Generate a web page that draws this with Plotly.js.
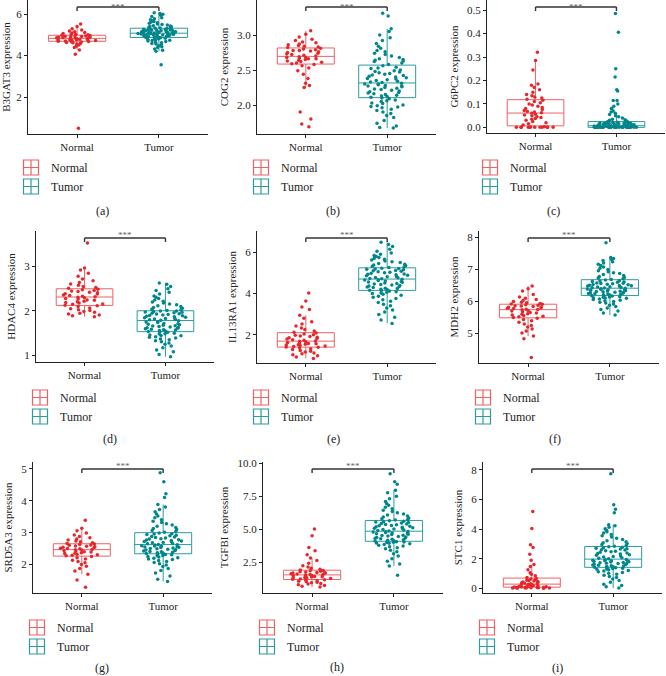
<!DOCTYPE html>
<html>
<head>
<meta charset="utf-8">
<script src="https://cdn.plot.ly/plotly-3.0.1.min.js"></script>
<style>
  html, body { margin: 0; padding: 0; background: #fff; }
  #chart { width: 666px; height: 676px; }
</style>
</head>
<body>
<div id="chart"></div>
<script>
// Groups and genes
const groups = ['Normal', 'Tumor'];
const genes = ['B3GAT3', 'COG2', 'G6PC2', 'HDAC4', 'IL13RA1', 'MDH2', 'SRD5A3', 'TGFBI', 'STC1'];
const panelTags = ['(a)', '(b)', '(c)', '(d)', '(e)', '(f)', '(g)', '(h)', '(i)'];

// Expression values, estimated from the jittered points of each panel
const b3gat3Normal = [0.50, 4.06, 4.27, 4.38, 4.45, 4.51, 4.55, 4.58, 4.61, 4.63, 4.65, 4.66, 4.68,
  4.69, 4.70, 4.72, 4.73, 4.74, 4.75, 4.76, 4.77, 4.78, 4.79, 4.80, 4.81, 4.82,
  4.83, 4.84, 4.85, 4.86, 4.87, 4.88, 4.89, 4.91, 4.92, 4.93, 4.94, 4.95, 4.97,
  4.98, 5.00, 5.02, 5.04, 5.06, 5.08, 5.11, 5.14, 5.18, 5.23, 5.29, 5.40, 5.52];
const b3gat3Tumor = [3.55, 4.20, 4.25, 4.31, 4.38, 4.42, 4.47, 4.51, 4.55, 4.58, 4.62, 4.64, 4.67, 4.70, 4.72, 4.74, 4.76, 4.78, 4.80, 4.81, 4.83, 4.85, 4.86,
  4.87, 4.88, 4.90, 4.91, 4.92, 4.93, 4.95, 4.96, 4.97, 4.98, 4.99, 5.00, 5.01, 5.02, 5.02, 5.03, 5.04, 5.04, 5.05, 5.06, 5.06, 5.07, 5.07,
  5.08, 5.09, 5.10, 5.11, 5.12, 5.13, 5.14, 5.15, 5.16, 5.17, 5.18, 5.19, 5.20, 5.21, 5.22, 5.23, 5.24, 5.25, 5.26, 5.27, 5.28, 5.30, 5.31,
  5.32, 5.34, 5.36, 5.38, 5.40, 5.42, 5.44, 5.47, 5.50, 5.52, 5.55, 5.58, 5.61, 5.64, 5.68, 5.72, 5.77, 5.82, 5.88, 5.94, 5.99, 6.03, 6.06];

const cog2Normal = [1.69, 1.73, 1.80, 1.90, 2.25, 2.28, 2.31, 2.38, 2.44, 2.49, 2.53, 2.56, 2.58,
  2.59, 2.60, 2.61, 2.62, 2.63, 2.64, 2.65, 2.66, 2.66, 2.67, 2.68, 2.68, 2.69,
  2.70, 2.71, 2.72, 2.73, 2.74, 2.75, 2.76, 2.77, 2.78, 2.78, 2.79, 2.80, 2.81,
  2.82, 2.83, 2.84, 2.85, 2.86, 2.87, 2.89, 2.90, 2.92, 2.94, 2.97, 3.01, 3.06];
const cog2Tumor = [1.67, 1.68, 1.70, 1.74, 1.78, 1.82, 1.85, 1.88, 1.90, 1.92, 1.94, 1.96, 1.97, 1.98, 1.99, 2.00, 2.02, 2.03, 2.05, 2.06, 2.07, 2.09, 2.10,
  2.11, 2.12, 2.13, 2.14, 2.15, 2.16, 2.17, 2.18, 2.19, 2.20, 2.21, 2.22, 2.23, 2.24, 2.25, 2.26, 2.27, 2.27, 2.28, 2.29, 2.30, 2.30, 2.31,
  2.32, 2.33, 2.34, 2.35, 2.36, 2.37, 2.38, 2.39, 2.40, 2.41, 2.42, 2.43, 2.44, 2.45, 2.46, 2.47, 2.48, 2.49, 2.50, 2.52, 2.53, 2.54, 2.56,
  2.58, 2.60, 2.62, 2.63, 2.64, 2.65, 2.66, 2.68, 2.70, 2.72, 2.74, 2.76, 2.78, 2.81, 2.84, 2.88, 2.92, 2.96, 3.00, 3.05, 3.09, 3.27, 3.31];

const g6pc2Normal = [0, 0, 0, 0, 0, 0, 0, 0, 0, 0, 0.001, 0.002, 0.003,
  0.010, 0.015, 0.020, 0.025, 0.030, 0.035, 0.038, 0.042, 0.045, 0.050, 0.053, 0.056, 0.060,
  0.062, 0.065, 0.068, 0.072, 0.076, 0.080, 0.085, 0.090, 0.095, 0.100, 0.105, 0.110, 0.116,
  0.120, 0.125, 0.130, 0.135, 0.140, 0.150, 0.160, 0.170, 0.180, 0.185, 0.245, 0.285, 0.320];
const g6pc2Tumor = [0, 0, 0, 0, 0, 0, 0, 0, 0, 0, 0, 0, 0, 0, 0, 0, 0, 0, 0, 0, 0, 0, 0,
  0, 0, 0, 0, 0, 0, 0, 0.001, 0.001, 0.002, 0.002, 0.002, 0.003, 0.003, 0.003, 0.004, 0.004, 0.005, 0.005, 0.005, 0.006, 0.006, 0.006,
  0.007, 0.007, 0.008, 0.008, 0.009, 0.010, 0.010, 0.011, 0.012, 0.012, 0.013, 0.014, 0.015, 0.015, 0.016, 0.017, 0.018, 0.018, 0.019, 0.020, 0.020, 0.021, 0.021,
  0.022, 0.024, 0.025, 0.027, 0.030, 0.033, 0.035, 0.040, 0.045, 0.050, 0.055, 0.060, 0.065, 0.070, 0.080, 0.080, 0.090, 0.100, 0.115, 0.115, 0.155, 0.160, 0.215, 0.250, 0.405, 0.485];

const hdac4Normal = [1.87, 1.89, 1.91, 1.93, 1.95, 1.97, 1.99, 2.01, 2.03, 2.05, 2.07, 2.10, 2.12,
  2.13, 2.15, 2.16, 2.18, 2.19, 2.21, 2.22, 2.24, 2.25, 2.27, 2.28, 2.30, 2.31,
  2.32, 2.33, 2.35, 2.36, 2.38, 2.39, 2.41, 2.42, 2.44, 2.45, 2.46, 2.48, 2.49,
  2.51, 2.53, 2.55, 2.58, 2.61, 2.64, 2.68, 2.72, 2.78, 2.85, 2.92, 2.97, 3.53];
const hdac4Tumor = [0.97, 1.02, 1.08, 1.12, 1.17, 1.21, 1.25, 1.28, 1.31, 1.33, 1.35, 1.37, 1.39, 1.41, 1.42, 1.44, 1.45, 1.46, 1.48, 1.49, 1.50, 1.52, 1.53,
  1.54, 1.55, 1.56, 1.57, 1.58, 1.59, 1.60, 1.61, 1.62, 1.63, 1.64, 1.65, 1.66, 1.67, 1.68, 1.69, 1.70, 1.71, 1.72, 1.74, 1.75, 1.76, 1.78,
  1.79, 1.80, 1.81, 1.82, 1.83, 1.84, 1.85, 1.86, 1.87, 1.88, 1.89, 1.90, 1.91, 1.92, 1.93, 1.94, 1.95, 1.96, 1.97, 1.98, 1.99, 2.00, 2.00,
  2.01, 2.03, 2.04, 2.06, 2.08, 2.10, 2.12, 2.14, 2.16, 2.18, 2.20, 2.22, 2.25, 2.28, 2.31, 2.34, 2.38, 2.42, 2.46, 2.50, 2.55, 2.60, 2.63];

const il13ra1Normal = [0.85, 0.92, 0.98, 1.03, 1.08, 1.12, 1.16, 1.20, 1.24, 1.28, 1.32, 1.36, 1.39,
  1.41, 1.43, 1.46, 1.48, 1.50, 1.52, 1.54, 1.56, 1.58, 1.61, 1.63, 1.66, 1.68,
  1.70, 1.73, 1.76, 1.79, 1.82, 1.85, 1.88, 1.91, 1.94, 1.97, 2.00, 2.04, 2.08,
  2.12, 2.18, 2.25, 2.33, 2.42, 2.52, 2.63, 2.80, 2.95, 3.22, 3.35, 3.64, 4.02];
const il13ra1Tumor = [2.55, 2.72, 2.85, 2.98, 3.10, 3.20, 3.30, 3.40, 3.48, 3.56, 3.63, 3.70, 3.76, 3.82, 3.87, 3.92, 3.96, 4.00, 4.03, 4.06, 4.09, 4.12, 4.14,
  4.16, 4.19, 4.21, 4.24, 4.26, 4.29, 4.31, 4.34, 4.36, 4.39, 4.41, 4.44, 4.46, 4.49, 4.51, 4.54, 4.56, 4.58, 4.61, 4.63, 4.65, 4.67, 4.69,
  4.71, 4.73, 4.76, 4.78, 4.81, 4.83, 4.86, 4.88, 4.91, 4.93, 4.95, 4.98, 5.00, 5.03, 5.05, 5.08, 5.10, 5.12, 5.15, 5.17, 5.19, 5.21, 5.23,
  5.26, 5.29, 5.32, 5.35, 5.38, 5.42, 5.46, 5.50, 5.54, 5.58, 5.62, 5.66, 5.70, 5.74, 5.79, 5.84, 5.90, 5.96, 6.05, 6.15, 6.28, 6.38, 6.48];

const mdh2Normal = [4.25, 4.84, 4.92, 5.02, 5.08, 5.14, 5.20, 5.25, 5.30, 5.35, 5.40, 5.44, 5.48,
  5.50, 5.52, 5.54, 5.56, 5.58, 5.60, 5.62, 5.64, 5.66, 5.68, 5.70, 5.72, 5.74,
  5.75, 5.76, 5.78, 5.79, 5.80, 5.82, 5.83, 5.84, 5.86, 5.87, 5.88, 5.90, 5.91,
  5.92, 5.94, 5.96, 5.98, 6.00, 6.03, 6.06, 6.10, 6.14, 6.22, 6.33, 6.40, 6.48];
const mdh2Tumor = [5.58, 5.64, 5.70, 5.75, 5.80, 5.84, 5.88, 5.92, 5.95, 5.98, 6.00, 6.02, 6.04, 6.06, 6.08, 6.10, 6.11, 6.12, 6.13, 6.14, 6.15, 6.17, 6.18,
  6.19, 6.20, 6.21, 6.22, 6.23, 6.24, 6.25, 6.26, 6.27, 6.28, 6.29, 6.30, 6.31, 6.32, 6.33, 6.34, 6.35, 6.36, 6.37, 6.38, 6.39, 6.40, 6.41,
  6.42, 6.43, 6.44, 6.45, 6.46, 6.47, 6.48, 6.49, 6.50, 6.51, 6.52, 6.53, 6.54, 6.55, 6.56, 6.57, 6.58, 6.60, 6.61, 6.62, 6.64, 6.65, 6.67,
  6.69, 6.71, 6.73, 6.75, 6.78, 6.81, 6.84, 6.87, 6.90, 6.93, 6.96, 7.00, 7.04, 7.08, 7.12, 7.16, 7.20, 7.24, 7.28, 7.31, 7.34, 7.37, 7.83];

const srd5a3Normal = [1.27, 1.50, 1.68, 1.78, 1.86, 1.93, 1.99, 2.04, 2.08, 2.12, 2.16, 2.20, 2.24,
  2.26, 2.28, 2.29, 2.31, 2.33, 2.34, 2.36, 2.38, 2.39, 2.41, 2.42, 2.44, 2.45,
  2.46, 2.48, 2.49, 2.50, 2.52, 2.53, 2.55, 2.56, 2.57, 2.59, 2.60, 2.62, 2.63,
  2.65, 2.67, 2.70, 2.73, 2.76, 2.79, 2.83, 2.87, 2.92, 2.98, 3.05, 3.13, 3.38];
const srd5a3Tumor = [1.45, 1.52, 1.62, 1.72, 1.80, 1.86, 1.92, 1.97, 2.01, 2.05, 2.08, 2.11, 2.14, 2.16, 2.18, 2.20, 2.22, 2.24, 2.26, 2.27, 2.29, 2.30, 2.32,
  2.33, 2.35, 2.36, 2.37, 2.39, 2.40, 2.41, 2.43, 2.44, 2.45, 2.47, 2.48, 2.49, 2.51, 2.52, 2.53, 2.54, 2.55, 2.56, 2.57, 2.58, 2.60, 2.61,
  2.62, 2.64, 2.65, 2.67, 2.68, 2.70, 2.71, 2.73, 2.74, 2.76, 2.77, 2.79, 2.80, 2.82, 2.84, 2.85, 2.87, 2.89, 2.91, 2.93, 2.95, 2.96, 2.98,
  3.00, 3.03, 3.06, 3.09, 3.12, 3.15, 3.19, 3.23, 3.27, 3.31, 3.35, 3.40, 3.46, 3.52, 3.58, 3.65, 3.72, 3.80, 3.88, 4.10, 4.22, 4.60, 4.88];

const tgfbiNormal = [0.60, 0.66, 0.72, 0.78, 0.83, 0.88, 0.92, 0.96, 1.00, 1.04, 1.08, 1.12, 1.16,
  1.19, 1.22, 1.25, 1.28, 1.30, 1.33, 1.36, 1.38, 1.41, 1.43, 1.46, 1.48, 1.51,
  1.54, 1.56, 1.59, 1.61, 1.64, 1.66, 1.69, 1.71, 1.74, 1.77, 1.80, 1.83, 1.86,
  1.90, 1.96, 2.03, 2.12, 2.22, 2.40, 2.62, 2.80, 3.05, 3.35, 3.60, 4.50, 5.00];
const tgfbiTumor = [1.50, 2.20, 2.35, 2.55, 2.75, 2.95, 3.12, 3.28, 3.40, 3.50, 3.58, 3.65, 3.72, 3.78, 3.83, 3.88, 3.92, 3.95, 3.98, 4.00, 4.02, 4.04, 4.06,
  4.09, 4.12, 4.16, 4.19, 4.23, 4.26, 4.30, 4.33, 4.37, 4.40, 4.44, 4.47, 4.51, 4.54, 4.58, 4.61, 4.65, 4.68, 4.71, 4.74, 4.77, 4.80, 4.82,
  4.86, 4.90, 4.93, 4.97, 5.00, 5.04, 5.07, 5.11, 5.14, 5.18, 5.21, 5.25, 5.28, 5.32, 5.35, 5.39, 5.42, 5.46, 5.49, 5.53, 5.56, 5.60, 5.63,
  5.68, 5.73, 5.79, 5.85, 5.92, 5.99, 6.07, 6.15, 6.24, 6.33, 6.43, 6.54, 6.66, 6.80, 6.95, 7.10, 7.30, 7.50, 7.75, 7.95, 8.40, 8.60, 9.20];

const stc1Normal = [0.00, 0.00, 0.01, 0.01, 0.02, 0.02, 0.03, 0.03, 0.04, 0.05, 0.05, 0.06, 0.07,
  0.08, 0.09, 0.10, 0.11, 0.12, 0.14, 0.15, 0.17, 0.19, 0.21, 0.23, 0.25, 0.27,
  0.29, 0.31, 0.34, 0.37, 0.40, 0.43, 0.46, 0.49, 0.52, 0.55, 0.58, 0.62, 0.66,
  0.72, 0.85, 0.95, 1.05, 1.25, 1.48, 1.60, 1.90, 2.30, 2.75, 2.95, 4.05, 5.20];
const stc1Tumor = [0.02, 0.10, 0.18, 0.28, 0.40, 0.52, 0.62, 0.72, 0.80, 0.88, 0.95, 1.01, 1.07, 1.12, 1.17, 1.21, 1.25, 1.28, 1.31, 1.34, 1.36, 1.38, 1.40,
  1.43, 1.45, 1.48, 1.50, 1.53, 1.55, 1.58, 1.60, 1.62, 1.65, 1.67, 1.70, 1.72, 1.74, 1.77, 1.79, 1.81, 1.84, 1.86, 1.88, 1.90, 1.93, 1.95,
  1.99, 2.03, 2.07, 2.11, 2.15, 2.19, 2.23, 2.27, 2.31, 2.35, 2.39, 2.43, 2.47, 2.51, 2.54, 2.58, 2.61, 2.65, 2.68, 2.71, 2.74, 2.77, 2.80,
  2.85, 2.90, 2.96, 3.02, 3.08, 3.15, 3.22, 3.30, 3.38, 3.46, 3.55, 3.64, 3.73, 3.82, 3.92, 4.02, 4.12, 4.22, 4.30, 5.10, 5.35, 5.65, 7.75];

const normalSeries = [b3gat3Normal, cog2Normal, g6pc2Normal, hdac4Normal, il13ra1Normal, mdh2Normal, srd5a3Normal, tgfbiNormal, stc1Normal];
const tumorSeries = [b3gat3Tumor, cog2Tumor, g6pc2Tumor, hdac4Tumor, il13ra1Tumor, mdh2Tumor, srd5a3Tumor, tgfbiTumor, stc1Tumor];

// Y tick labels per panel
const yTickVals = [[2, 4, 6], [2.0, 2.5, 3.0], [0, 0.1, 0.2, 0.3, 0.4, 0.5], [1, 2, 3], [2, 4, 6],
  [5, 6, 7, 8], [2, 3, 4, 5], [2.5, 5.0, 7.5, 10.0], [0, 2, 4, 6, 8]];
const yTickText = [['2', '4', '6'], ['2.0', '2.5', '3.0'], ['0.0', '0.1', '0.2', '0.3', '0.4', '0.5'], ['1', '2', '3'], ['2', '4', '6'],
  ['5', '6', '7', '8'], ['2', '3', '4', '5'], ['2.5', '5.0', '7.5', '10.0'], ['0', '2', '4', '6', '8']];

// Panel geometry in pixels of the 666x676 page (plot area, y range, legend, tag)
const W = 666, H = 676;
const panels = [
  {px: [28, 208], py: [0, 134], yr: [0.217, 6.675], leg: [11, 153], tag: [102, 211]},
  {px: [257, 436], py: [0, 134], yr: [1.586, 3.5], leg: [241, 153], tag: [333, 211]},
  {px: [487, 665], py: [0, 133], yr: [-0.024, 0.543], leg: [470, 153], tag: [553, 211]},
  {px: [36, 214], py: [231, 362], yr: [0.852, 3.80], leg: [20, 383], tag: [110, 439]},
  {px: [257, 436], py: [231, 363], yr: [0.63, 7.03], leg: [241, 383], tag: [333, 439]},
  {px: [479, 659], py: [231, 363], yr: [4.08, 8.2], leg: [463, 383], tag: [555, 439]},
  {px: [33, 212], py: [462, 593], yr: [1.087, 5.22], leg: [17, 613], tag: [102, 668]},
  {px: [263, 443], py: [462, 593], yr: [0.15, 10.09], leg: [247, 613], tag: [337, 667]},
  {px: [483, 662], py: [462, 593], yr: [-0.32, 8.54], leg: [467, 613], tag: [557, 668]}
];

const serif = '"Liberation Serif", "Times New Roman", serif';
const pointColors = ['#E6272C', '#00868B'];
const boxColors = ['#EE6266', '#2C9CA0'];

const data = [];
const layout = {
  width: W, height: H,
  margin: {l: 0, r: 0, t: 0, b: 0},
  paper_bgcolor: '#fff', plot_bgcolor: '#fff',
  font: {family: serif, size: 11, color: '#222'},
  boxmode: 'overlay',
  shapes: [], annotations: []
};

panels.forEach((p, i) => {
  const k = i === 0 ? '' : String(i + 1);
  const series = [normalSeries[i], tumorSeries[i]];
  series.forEach((vals, g) => {
    data.push({
      type: 'box', y: vals, x0: groups[g], name: groups[g],
      xaxis: 'x' + k, yaxis: 'y' + k, showlegend: false,
      boxpoints: 'all', jitter: 0.8, pointpos: 0, width: 0.7, whiskerwidth: 0,
      fillcolor: 'rgba(255,255,255,0)',
      line: {color: boxColors[g], width: 1},
      marker: {color: pointColors[g], size: 3.5},
      hoverinfo: 'y'
    });
  });
  // legend keys (box with crossing lines, like the ggplot key)
  groups.forEach((name, g) => {
    data.push({
      type: 'scatter', mode: 'markers', x: [null], y: [null], name: name,
      xaxis: 'x' + k, yaxis: 'y' + k, legend: 'legend' + k,
      marker: {symbol: 'square-cross-open', size: 15, color: boxColors[g], line: {width: 1.2}}
    });
  });

  layout['xaxis' + k] = {
    domain: [p.px[0] / W, p.px[1] / W], anchor: 'y' + k,
    type: 'category', categoryorder: 'array', categoryarray: groups,
    range: [-0.6, 1.6], showline: true, linecolor: '#222', linewidth: 1,
    ticks: 'outside', ticklen: 3, tickcolor: '#222',
    tickfont: {family: serif, size: 11, color: '#222'},
    showgrid: false, zeroline: false, fixedrange: true
  };
  layout['yaxis' + k] = {
    domain: [1 - p.py[1] / H, 1 - p.py[0] / H], anchor: 'x' + k,
    range: p.yr, tickvals: yTickVals[i], ticktext: yTickText[i],
    showline: true, linecolor: '#222', linewidth: 1,
    ticks: 'outside', ticklen: 3, tickcolor: '#222',
    tickfont: {family: serif, size: 11, color: '#222'},
    showgrid: false, zeroline: false, fixedrange: true,
    title: {text: genes[i] + ' expression', font: {family: serif, size: 11, color: '#222'}, standoff: 6}
  };
  layout['legend' + k] = {
    x: p.leg[0] / W, y: 1 - p.leg[1] / H, xanchor: 'left', yanchor: 'top',
    xref: 'paper', yref: 'paper',
    font: {family: serif, size: 12, color: '#222'},
    bgcolor: 'rgba(0,0,0,0)', borderwidth: 0, tracegroupgap: 0
  };

  // significance bracket, 7px under the top of the plot area
  const ph = p.py[1] - p.py[0];
  const yb = 1 - 7 / ph, yt = 4 / ph;
  const yd = 'y' + k + ' domain';
  const bl = {color: '#333', width: 1.4};
  layout.shapes.push(
    {type: 'line', xref: 'x' + k, yref: yd, x0: groups[0], x1: groups[1], y0: yb, y1: yb, line: bl},
    {type: 'line', xref: 'x' + k, yref: yd, x0: groups[0], x1: groups[0], y0: yb - yt, y1: yb, line: bl},
    {type: 'line', xref: 'x' + k, yref: yd, x0: groups[1], x1: groups[1], y0: yb - yt, y1: yb, line: bl}
  );
  // stars just above the bracket, kept inside the page on the top row
  const starsTop = Math.min(3, p.py[0]);
  layout.annotations.push({
    xref: 'x' + k, yref: yd, x: 0.5, y: 1 + starsTop / ph,
    yanchor: 'top', xanchor: 'center',
    text: '***', showarrow: false, font: {family: serif, size: 9, color: '#666'}
  });
  layout.annotations.push({
    xref: 'paper', yref: 'paper', x: p.tag[0] / W, y: 1 - p.tag[1] / H,
    xanchor: 'center', yanchor: 'middle',
    text: panelTags[i], showarrow: false, font: {family: serif, size: 12, color: '#222'}
  });
});

Plotly.newPlot('chart', data, layout, {displayModeBar: false, staticPlot: true});
</script>
</body>
</html>
